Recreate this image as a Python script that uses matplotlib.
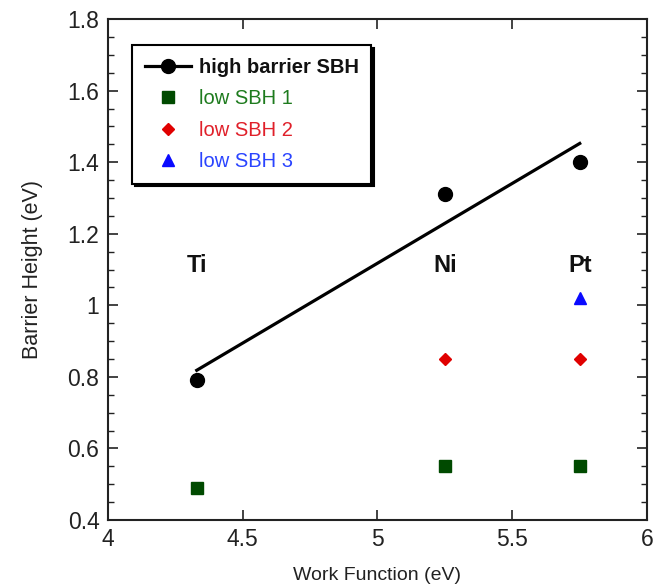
import numpy as np
import matplotlib
matplotlib.use("Agg")
import matplotlib.pyplot as plt
from matplotlib.ticker import MultipleLocator, FuncFormatter

plt.rcParams['font.family'] = ['Liberation Sans', 'DejaVu Sans']

# metal work functions (eV)
metals = ["Ti", "Ni", "Pt"]
work_fn = [4.33, 5.25, 5.75]

# barrier heights (eV)
high_sbh = [0.79, 1.31, 1.40]
low1_x = [4.33, 5.25, 5.75]
low1 = [0.49, 0.55, 0.55]
low2_x = [5.25, 5.75]
low2 = [0.85, 0.85]
low3_x = [5.75]
low3 = [1.02]

label_y = 1.11

fig = plt.figure(figsize=(6.57, 5.88), dpi=100)
ax = fig.add_axes([0.164, 0.1156, 0.821, 0.852])

# linear fit through the high barrier points
k, b = np.polyfit(work_fn, high_sbh, 1)
xf = np.array([work_fn[0], work_fn[-1]])

ax.plot(xf, k * xf + b, color="black", lw=2.3, zorder=2)
ax.plot(work_fn, high_sbh, "o", color="black", ms=10, zorder=3)
h_high, = ax.plot([], [], "-o", color="black", lw=2.3, ms=10)
h1, = ax.plot(low1_x, low1, "s", color="#004a00", ms=9, ls="none")
h2, = ax.plot(low2_x, low2, "D", color="#e00000", ms=6.5, ls="none")
h3, = ax.plot(low3_x, low3, "^", color="#0a0aff", ms=8, ls="none")

for m, x in zip(metals, work_fn):
    ax.text(x, label_y, m, ha="center", va="center", fontsize=17,
            fontweight="bold", color="#111111")

ax.set_xlim(4, 6)
ax.set_ylim(0.4, 1.8)
ax.xaxis.set_major_locator(MultipleLocator(0.5))
ax.yaxis.set_major_locator(MultipleLocator(0.2))
ax.yaxis.set_minor_locator(MultipleLocator(0.05))
fmt = FuncFormatter(lambda v, p: "%g" % round(v, 2))
ax.xaxis.set_major_formatter(fmt)
ax.yaxis.set_major_formatter(fmt)
ax.tick_params(which="both", direction="in", top=True, right=True,
               labelsize=16.5, color="#222222", labelcolor="#222222")
ax.tick_params(which="major", length=7, width=1.2, pad=6)
ax.tick_params(which="minor", length=4, width=1.0)
for s in ax.spines.values():
    s.set_linewidth(1.5)
    s.set_color("#222222")

ax.set_xlabel("Work Function (eV)", fontsize=14, color="#222222", labelpad=11)
ax.set_ylabel("Barrier Height (eV)", fontsize=15.5, color="#222222", labelpad=18)

leg = ax.legend([h_high, h1, h2, h3],
                ["high barrier SBH", "low SBH 1", "low SBH 2", "low SBH 3"],
                loc="upper left", bbox_to_anchor=(0.045, 0.948),
                borderaxespad=0, fontsize=14.5, frameon=True, fancybox=False,
                shadow={"color": "black", "alpha": 1},
                edgecolor="black", framealpha=1, handlelength=2.3,
                labelspacing=0.62, handletextpad=0.4, borderpad=0.62,
                labelcolor=["#111111", "#1e7b1e", "#e0202a", "#2a44ff"])
leg.get_frame().set_linewidth(1.5)
leg.get_texts()[0].set_fontweight("bold")

fig.savefig("out.png", dpi=100)
